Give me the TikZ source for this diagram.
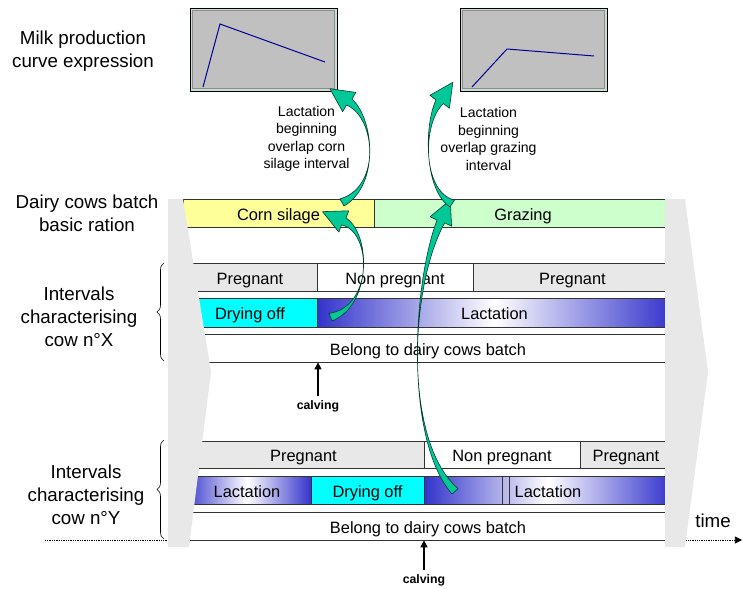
\documentclass[tikz,border=0pt]{standalone}
\usepackage{fontspec}
\setmainfont{Liberation Sans}
\usepackage{tikz}
\usetikzlibrary{calc, arrows.meta, decorations.pathreplacing}
\definecolor{silage}{RGB}{255,255,153}
\definecolor{grazing}{RGB}{204,255,204}
\definecolor{pregGray}{RGB}{232,232,232}
\definecolor{dryCyan}{RGB}{0,255,255}
\definecolor{lacBlue}{RGB}{51,51,204}
\definecolor{ribbonGreen}{RGB}{0,200,150}
\definecolor{ribbonDark}{RGB}{0,60,45}
\definecolor{frameGreen}{RGB}{200,222,210}
\definecolor{plotGray}{RGB}{192,192,192}
\definecolor{curveBlue}{RGB}{0,0,150}

% curved ribbon arrow: tail, control, control, head base, inner side at tail, inner side at head
\newcommand\bendarrow[6]{%
  \coordinate (ti) at ($(#1)!7pt!#5:(#2)$);
  \coordinate (hi) at ($(#4)!7pt!#6:(#3)$);
  \coordinate (hm) at ($(#4)!0.5!(hi)$);
  \coordinate (ci) at ($(#2)!2.3pt!#5:(#1)$);
  \coordinate (co) at ($(#3)!2.3pt!#6:(#4)$);
  \filldraw[ribbon] (#1) .. controls (#2) and (#3) .. (#4)
    -- ($(hm)!10pt!#5:(#3)$) -- ($(hm)!-20pt!(#3)$) -- ($(hm)!10pt!#6:(#3)$)
    -- (hi) .. controls (co) and (ci) .. (ti) -- cycle;
}

\begin{document}
\begin{tikzpicture}[x=0.03cm, y=-0.03cm,
  cell/.style={draw=black!80, line width=0.6pt, inner sep=0pt, minimum height=28*0.03cm,
    text height=12.4pt, text depth=0pt, font=\fontsize{14}{16}\selectfont},
  wd/.style={minimum width=#1*0.03cm},
  ht/.style={minimum height=#1*0.03cm},
  lac/.style={cell, left color=lacBlue, right color=lacBlue, middle color=white},
  lbl/.style={align=center, font=\fontsize{16}{19.5}\selectfont},
  note/.style={align=center, font=\fontsize{12}{15}\selectfont},
  calv/.style={font=\fontsize{10.5}{12}\selectfont\bfseries, inner sep=3pt},
  chart/.style={draw=black, line width=0.8pt, fill=frameGreen, inner sep=0pt, wd=147, ht=83},
  side/.style={fill=pregGray},
  ribbon/.style={fill=ribbonGreen, draw=ribbonDark, line width=0.5pt, line join=round},
  calvarrow/.style={-{Triangle[length=6pt, width=6pt]}, line width=0.9pt},
  timeline/.style={densely dotted, line width=0.5pt, -{Triangle[length=6pt, width=6pt]}},
]
  \useasboundingbox (0,0) rectangle (750,589);

  \coordinate (t0) at (45,540);
  \coordinate (t1) at (742,540);
  \draw[timeline] (t0) -- (t1);

  \node[cell, fill=silage, wd=191] (silage) at (278.5,213) {Corn silage};
  \node[cell, fill=grazing, wd=298] (graze) at (523,213) {Grazing};

  \node[cell, fill=pregGray, wd=134] (pregX1) at (250,277) {Pregnant};
  \node[cell, fill=white, wd=156] (nonpregX) at (395,277) {Non pregnant};
  \node[cell, fill=pregGray, wd=199] (pregX2) at (572.5,277) {Pregnant};
  \node[cell, fill=dryCyan, wd=134, ht=29] (dryX) at (250,312.5) {Drying off};
  \node[lac, wd=355, ht=29] (lacX) at (494.5,312.5) {Lactation};
  \node[cell, fill=white, wd=488] (batchX) at (428,348) {Belong to dairy cows batch};

  \node[cell, fill=pregGray, wd=241, ht=27] (pregY1) at (303.5,454.5) {Pregnant};
  \node[cell, fill=white, wd=156, ht=27] (nonpregY) at (502,454.5) {Non pregnant};
  \node[cell, fill=pregGray, wd=92, ht=27] (pregY2) at (626,454.5) {Pregnant};
  \node[lac, wd=128] (lacY1) at (247,490) {Lactation};
  \node[cell, fill=dryCyan, wd=113] (dryY) at (367.5,490) {Drying off};
  \node[lac, wd=248] (lacY2) at (548,490) {Lactation};
  \node[cell, wd=7] (gapY) at (505.5,490) {};
  \node[cell, fill=white, wd=488] (batchY) at (428,526) {Belong to dairy cows batch};

  \fill[side] (168,199) -- (183,199) -- (211,372) -- (189,547) -- (168,547) -- cycle;
  \fill[side] (665,199) -- (685,199) -- (708,372) -- (685,547) -- (665,547) -- cycle;

  \node[chart] (chartA) at (263.5,49.5) {};
  \draw[black!45, fill=plotGray] ([shift={(3,3)}]chartA.north west) rectangle ([shift={(-3,-3)}]chartA.south east);
  \draw[curveBlue, line width=0.85pt] (203,87) -- (220,24) -- (325,62);
  \node[chart] (chartB) at (533.5,49.5) {};
  \draw[black!45, fill=plotGray] ([shift={(3,3)}]chartB.north west) rectangle ([shift={(-3,-3)}]chartB.south east);
  \draw[curveBlue, line width=0.85pt] (472,87) -- (507,49) -- (594,56);

  \node[lbl] (milk) at (83,51.5) {Milk production\\curve expression};
  \node[lbl] (ration) at (87,213) {Dairy cows batch\\basic ration};
  \node[lbl] (cowX) at (79,317) {Intervals\\characterising\\cow n°X};
  \node[lbl] (cowY) at (86,495) {Intervals\\characterising\\cow n°Y};
  \node[lbl] (timelbl) at (713,521) {time};

  \draw[decorate, decoration={brace, amplitude=6pt}, line width=0.5pt] (164,361) -- (164,263);
  \draw[decorate, decoration={brace, amplitude=6pt}, line width=0.5pt] (164,539) -- (164,440);

  \node[note] (noteCorn) at (306.5,139) {Lactation\\beginning\\overlap corn\\silage interval};
  \node[note] (noteGraze) at (488.5,139) {Lactation\\beginning\\overlap grazing\\interval};

  \node[calv] (calvX) at (318,406) {calving};
  \draw[calvarrow] (calvX.north) -- (calvX.north |- batchX.south);
  \node[calv] (calvY) at (424,580) {calving};
  \draw[calvarrow] (calvY.north) -- (calvY.north |- batchY.south);

  \coordinate (lacXtail) at (332,321);
  \coordinate (silageHead) at (346,218);
  \coordinate (silageTail) at (344,206);
  \coordinate (chartAHead) at (352,99);
  \coordinate (lacYtail) at (452,494);
  \coordinate (grazeHead) at (437,220);
  \coordinate (grazeTail) at (450,207);
  \coordinate (chartBHead) at (436,100);
  \bendarrow{lacXtail}{372,305}{371,234}{silageHead}{90}{-90}
  \bendarrow{silageTail}{380,185}{374,119}{chartAHead}{90}{-90}
  \bendarrow{lacYtail}{405,440}{412,287}{grazeHead}{-90}{90}
  \bendarrow{grazeTail}{424,190}{424,125}{chartBHead}{-90}{90}
\end{tikzpicture}
\end{document}
